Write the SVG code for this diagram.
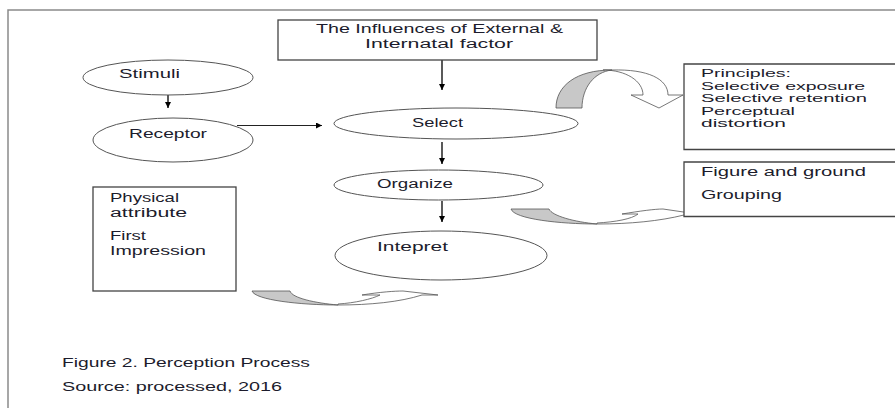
<svg xmlns="http://www.w3.org/2000/svg" width="895" height="408" viewBox="0 0 895 408">
<defs>
<style>
.t{font-family:"Liberation Sans","Open Sans",sans-serif;font-size:12px;fill:#1c1c2c}
.s{font-size:10.5px}
.box{fill:#fff;stroke:#444;stroke-width:1.3}
.ell{fill:#fff;stroke:#555;stroke-width:1}
.frame{fill:none;stroke:#8a8a8a;stroke-width:1.5}
.arr{stroke:#000;stroke-width:1.3;fill:none}
.thin{stroke:#222;stroke-width:1;fill:none}
.sh{fill:#c8c8c8;stroke:#555;stroke-width:0.8}
.wh{fill:#fff;stroke:#555;stroke-width:0.8}
</style>
<marker id="ah" viewBox="0 0 10 10" refX="10" refY="5" markerWidth="6" markerHeight="6" markerUnits="userSpaceOnUse" orient="auto">
<path d="M0,0 L10,5 L0,10 Z" fill="#000"/>
</marker>
<marker id="ah2" viewBox="0 0 10 10" refX="10" refY="5" markerWidth="8" markerHeight="6" markerUnits="userSpaceOnUse" orient="auto">
<path d="M0,0 L10,5 L0,10 Z" fill="#000"/>
</marker>
</defs>
<rect width="895" height="408" fill="#fff"/>
<path class="frame" d="M8,408 L8,10 L895,10"/>

<g id="connectors">
<line class="arr" x1="442" y1="60" x2="442" y2="90" marker-end="url(#ah)"/>
<line class="arr" x1="168" y1="95" x2="168" y2="108" marker-end="url(#ah)"/>
<line class="thin" x1="237" y1="125.5" x2="322" y2="125.5" marker-end="url(#ah2)"/>
<line class="arr" x1="442" y1="142" x2="442" y2="164" marker-end="url(#ah)"/>
<line class="arr" x1="442" y1="201" x2="442" y2="222" marker-end="url(#ah)"/>
<g id="curve-select">
<path class="wh" d="M603,70 C626,70 643,81 643,95 L631,95 L659,108 L683,95 L668,95 C668,79 648,69 612,70 Z"/>
<path class="sh" d="M556,108 C556,86 576,70 612,70 C594,72 582,88 582,108 Z"/>
</g>
<g id="curve-organize">
<path class="wh" d="M597,223 C615,222 632,219 638,214 L622,214 C640,211 655,209 663,209 L697,214 L684,215 C660,221 630,224 597,224 Z"/>
<path class="sh" d="M511,209 C514,219 560,224 597,224 C575,222 552,216 549,209 Z"/>
</g>
<g id="curve-interpret">
<path class="wh" d="M338,304 C355,303 372,299 380,295 L362,295 C380,292 395,291 403,291 L438,295 L422,295 C400,302 370,305 338,305 Z"/>
<path class="sh" d="M252,291 C255,300 300,305 338,305 C315,303 292,298 290,291 Z"/>
</g>
</g>

<g id="influences">
<rect class="box" x="278" y="20" width="319" height="40"/>
<text class="t" x="316" y="33" textLength="247" lengthAdjust="spacingAndGlyphs">The Influences of External &amp;</text>
<text class="t" x="365" y="47.5" textLength="148" lengthAdjust="spacingAndGlyphs">Internatal factor</text>
</g>

<g id="stimuli">
<ellipse class="ell" cx="168" cy="77.5" rx="85" ry="17.5"/>
<text class="t" x="119" y="78" textLength="61" lengthAdjust="spacingAndGlyphs">Stimuli</text>
</g>

<g id="receptor">
<ellipse class="ell" cx="173" cy="140" rx="80" ry="22"/>
<text class="t" x="129" y="138" textLength="78" lengthAdjust="spacingAndGlyphs">Receptor</text>
</g>

<g id="select">
<ellipse class="ell" cx="456" cy="123.5" rx="122" ry="15.5"/>
<text class="t" x="412" y="127" textLength="51" lengthAdjust="spacingAndGlyphs">Select</text>
</g>

<g id="organize">
<ellipse class="ell" cx="438.5" cy="185" rx="104.5" ry="15"/>
<text class="t" x="377" y="187.5" textLength="76" lengthAdjust="spacingAndGlyphs">Organize</text>
</g>

<g id="intepret">
<ellipse class="ell" cx="441" cy="255.5" rx="106" ry="24.5"/>
<text class="t" x="377" y="251" textLength="71" lengthAdjust="spacingAndGlyphs">Intepret</text>
</g>

<g id="physical">
<rect class="box" x="93" y="187" width="143" height="104"/>
<text class="t" x="110" y="202" textLength="69" lengthAdjust="spacingAndGlyphs">Physical</text>
<text class="t" x="110" y="217" textLength="77" lengthAdjust="spacingAndGlyphs">attribute</text>
<text class="t" x="110" y="240" textLength="36" lengthAdjust="spacingAndGlyphs">First</text>
<text class="t" x="110" y="255" textLength="96" lengthAdjust="spacingAndGlyphs">Impression</text>
</g>

<g id="principles">
<path class="box" d="M896,64 L684,64 L684,149.5 L896,149.5"/>
<text class="t s" x="701" y="77" textLength="90" lengthAdjust="spacingAndGlyphs">Principles:</text>
<text class="t s" x="701" y="89.5" textLength="164" lengthAdjust="spacingAndGlyphs">Selective exposure</text>
<text class="t s" x="701" y="102" textLength="166" lengthAdjust="spacingAndGlyphs">Selective retention</text>
<text class="t s" x="701" y="114.5" textLength="94" lengthAdjust="spacingAndGlyphs">Perceptual</text>
<text class="t s" x="701" y="127" textLength="85" lengthAdjust="spacingAndGlyphs">distortion</text>
</g>

<g id="figure-ground">
<path class="box" d="M896,162 L684,162 L684,216.5 L896,216.5"/>
<text class="t" x="701" y="176" textLength="165" lengthAdjust="spacingAndGlyphs">Figure and ground</text>
<text class="t" x="701" y="199" textLength="81" lengthAdjust="spacingAndGlyphs">Grouping</text>
</g>

<g id="caption">
<text class="t" x="62" y="367" textLength="248" lengthAdjust="spacingAndGlyphs">Figure 2. Perception Process</text>
<text class="t" x="62" y="391" textLength="220" lengthAdjust="spacingAndGlyphs">Source: processed, 2016</text>
</g>
</svg>
